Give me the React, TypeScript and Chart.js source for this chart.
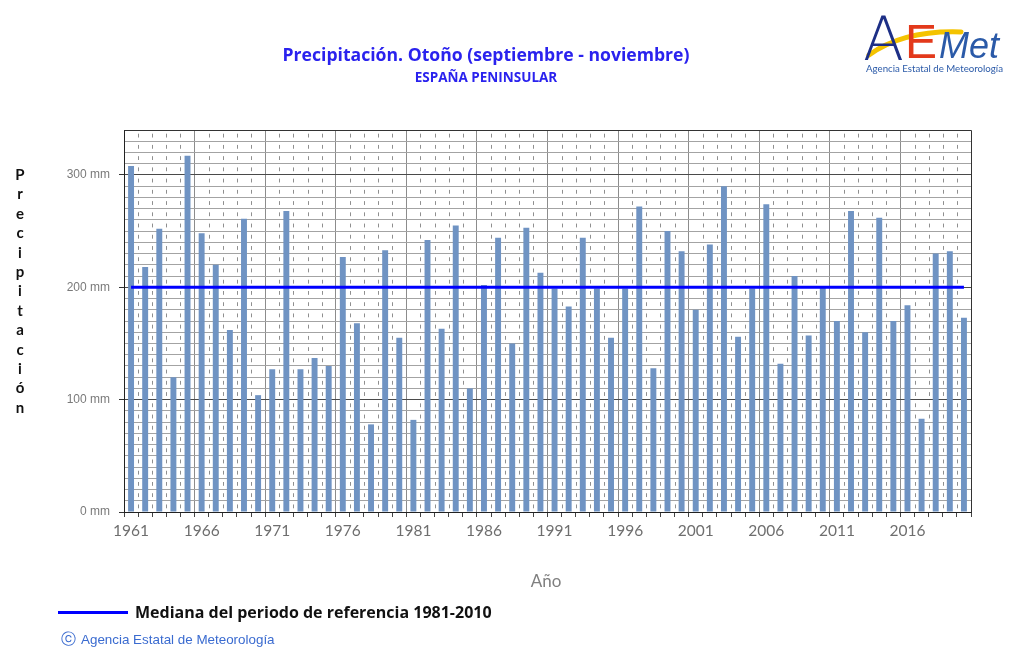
import React, { useEffect, useRef } from 'react';
import { Chart, registerables } from 'chart.js';
Chart.register(...registerables);

const YEARS = [
  1961, 1962, 1963, 1964, 1965, 1966, 1967, 1968, 1969, 1970,
  1971, 1972, 1973, 1974, 1975, 1976, 1977, 1978, 1979, 1980,
  1981, 1982, 1983, 1984, 1985, 1986, 1987, 1988, 1989, 1990,
  1991, 1992, 1993, 1994, 1995, 1996, 1997, 1998, 1999, 2000,
  2001, 2002, 2003, 2004, 2005, 2006, 2007, 2008, 2009, 2010,
  2011, 2012, 2013, 2014, 2015, 2016, 2017, 2018, 2019, 2020,
];

const PRECIP = [
  308, 218, 252, 120, 317, 248, 220, 162, 261, 104,
  127, 268, 127, 137, 130, 227, 168, 78, 233, 155,
  82, 242, 163, 255, 110, 202, 244, 150, 253, 213,
  199, 183, 244, 199, 155, 199, 272, 128, 250, 232,
  180, 238, 290, 156, 199, 274, 132, 210, 157, 200,
  170, 268, 160, 262, 170, 184, 83, 230, 232, 173,
];

const MEDIAN = 200;
const Y_MAX = 340;
const Y_LABELED = [0, 100, 200, 300];
const X_LABEL_EVERY = 5;

const FONT = "Lato, 'Noto Sans', 'DejaVu Sans', sans-serif";
const WIDE = "'Open Sans', 'Noto Sans', sans-serif";
const ARIAL = "'Liberation Sans', Arial, sans-serif";

const gridPlugin = {
  id: 'customGrid',
  beforeDatasetsDraw(chart: any) {
    const { ctx } = chart;
    const x = chart.scales.x;
    const y = chart.scales.y;
    const n = YEARS.length;
    ctx.save();
    ctx.strokeStyle = '#8f8f8f';
    ctx.lineWidth = 1;
    for (let i = 1; i < n; i++) {
      if (i % X_LABEL_EVERY === 0) continue;
      const px = Math.round((x.getPixelForValue(i - 1) + x.getPixelForValue(i)) / 2) + 0.5;
      ctx.beginPath();
      for (let v = 0; v < Y_MAX; v += 10) {
        ctx.moveTo(px, y.getPixelForValue(v + 3.3));
        ctx.lineTo(px, y.getPixelForValue(v + 6.7));
      }
      ctx.stroke();
    }
    ctx.restore();
  },
  afterDatasetsDraw(chart: any) {
    const { ctx, chartArea } = chart;
    ctx.save();
    ctx.strokeStyle = '#333';
    ctx.lineWidth = 1;
    ctx.beginPath();
    ctx.moveTo(Math.round(chartArea.left) + 0.5, Math.round(chartArea.top) + 0.5);
    ctx.lineTo(Math.round(chartArea.right) + 0.5, Math.round(chartArea.top) + 0.5);
    ctx.lineTo(Math.round(chartArea.right) + 0.5, Math.round(chartArea.bottom) + 0.5);
    ctx.stroke();
    ctx.restore();
  },
};

export default function App() {
  const ref = useRef<HTMLCanvasElement | null>(null);

  useEffect(() => {
    if (!ref.current) return;
    const chart = new Chart(ref.current, {
      type: 'bar',
      data: {
        labels: YEARS.map(String),
        datasets: [
          {
            type: 'line',
            data: YEARS.map(() => MEDIAN),
            borderColor: '#0000ff',
            borderWidth: 3,
            pointRadius: 0,
            order: 0,
          } as any,
          {
            type: 'bar',
            data: PRECIP,
            backgroundColor: '#6f93c3',
            borderWidth: 0,
            barPercentage: 0.42,
            categoryPercentage: 1,
            order: 1,
          } as any,
        ],
      },
      options: {
        animation: false,
        responsive: false,
        devicePixelRatio: 1,
        layout: { padding: { left: 0, top: 130, right: 38, bottom: 95 } },
        plugins: { legend: { display: false }, tooltip: { enabled: false } },
        scales: {
          x: {
            grid: {
              offset: true,
              color: (c: any) =>
                c.index !== undefined && c.index > 0 && c.index % X_LABEL_EVERY === 0 ? '#8c8c8c' : 'rgba(0,0,0,0)',
              drawOnChartArea: true,
              tickLength: 5,
              tickColor: '#444',
            },
            border: { color: '#222', width: 1 },
            ticks: {
              autoSkip: false,
              maxRotation: 0,
              minRotation: 0,
              padding: 5,
              color: '#6e6e6e',
              font: { family: FONT, size: 15.5 },
              callback: (_v: any, i: number) => (i % X_LABEL_EVERY === 0 ? String(YEARS[i]) : ''),
            },
            afterFit: (s: any) => {
              s.height = 40;
            },
          },
          y: {
            min: 0,
            max: Y_MAX,
            grid: {
              color: (c: any) => (c.tick && Y_LABELED.includes(c.tick.value) ? '#4a4a4a' : '#a3a3a3'),
              tickLength: 5,
              tickColor: (c: any) => (c.tick && Y_LABELED.includes(c.tick.value) ? '#333' : 'rgba(0,0,0,0)'),
            },
            border: { color: '#222', width: 1 },
            ticks: {
              stepSize: 10,
              autoSkip: false,
              padding: 9,
              color: '#7a7a7a',
              font: { family: ARIAL, size: 12 },
              callback: (v: any) => (Y_LABELED.includes(Number(v)) ? `${v} mm` : ''),
            },
            afterFit: (s: any) => {
              s.width = 124;
            },
          },
        },
      } as any,
      plugins: [gridPlugin],
    });
    return () => chart.destroy();
  }, []);

  const yTitle = 'Precipitación'.split('');

  return (
    <div
      style={{
        position: 'absolute',
        left: 0,
        top: 0,
        width: 1009,
        height: 647,
        background: '#fff',
        overflow: 'hidden',
        fontFamily: FONT,
      }}
    >
      <canvas ref={ref} width={1009} height={647} style={{ position: 'absolute', left: 0, top: 0 }} />

      <div
        style={{
          position: 'absolute', left: 0, top: 42, width: 972, textAlign: 'center',
          fontFamily: WIDE, fontSize: 17.6, lineHeight: '24px', fontWeight: 700, color: '#2a22ee',
          whiteSpace: 'nowrap',
        }}
      >
        Precipitación. Otoño (septiembre - noviembre)
      </div>
      <div
        style={{
          position: 'absolute', left: 0, top: 67, width: 972, textAlign: 'center',
          fontFamily: WIDE, fontSize: 13.5, lineHeight: '20px', fontWeight: 700, color: '#2a22ee',
          whiteSpace: 'nowrap',
        }}
      >
        ESPAÑA PENINSULAR
      </div>

      <div style={{ position: 'absolute', left: 10, top: 165, width: 20 }}>
        {yTitle.map((ch, i) => (
          <div
            key={i}
            style={{ height: 19.4, lineHeight: '19.4px', textAlign: 'center', fontSize: 15, fontWeight: 700, color: '#111' }}
          >
            {ch}
          </div>
        ))}
      </div>

      <div
        style={{
          position: 'absolute', left: 0, top: 571, width: 1092, textAlign: 'center',
          fontSize: 17, lineHeight: '20px', color: '#7f7f7f',
        }}
      >
        Año
      </div>

      <div style={{ position: 'absolute', left: 58, top: 611, width: 70, height: 3, background: '#0000ff' }} />
      <div
        style={{
          position: 'absolute', left: 135, top: 600, fontFamily: WIDE, fontSize: 16, lineHeight: '24px',
          fontWeight: 700, color: '#111', whiteSpace: 'nowrap',
        }}
      >
        Mediana del periodo de referencia 1981-2010
      </div>

      <div
        style={{
          position: 'absolute', left: 61, top: 630, fontFamily: ARIAL, fontSize: 13.4, lineHeight: '18px',
          color: '#3a6bd0', whiteSpace: 'nowrap',
        }}
      >
        <span style={{ fontFamily: "'DejaVu Sans', sans-serif", fontSize: 15, marginRight: 5 }}>ⓒ</span>Agencia Estatal de Meteorología
      </div>

      <svg width={150} height={80} style={{ position: 'absolute', left: 859, top: 0 }}>
        <path d="M 10 55 Q 45 30 102 32" stroke="#f4c300" strokeWidth={5} fill="none" strokeLinecap="round" />
        <text x={4} y={60} fontSize={60} fill="#1d2f86" fontFamily="'DejaVu Sans', sans-serif" fontWeight={300}>
          A
        </text>
        <text x={46} y={58} fontSize={48} fill="#e3391b" fontFamily="'Liberation Sans', sans-serif">
          E
        </text>
        <text x={80} y={58} fontSize={36} fontStyle="italic" fill="#2b5aa8" fontFamily="'Liberation Sans', sans-serif">
          Met
        </text>
        <text x={7} y={72} fontSize={9.5} fill="#2b5aa8" fontFamily={FONT} textLength={137} lengthAdjust="spacingAndGlyphs">
          Agencia Estatal de Meteorología
        </text>
      </svg>
    </div>
  );
}
